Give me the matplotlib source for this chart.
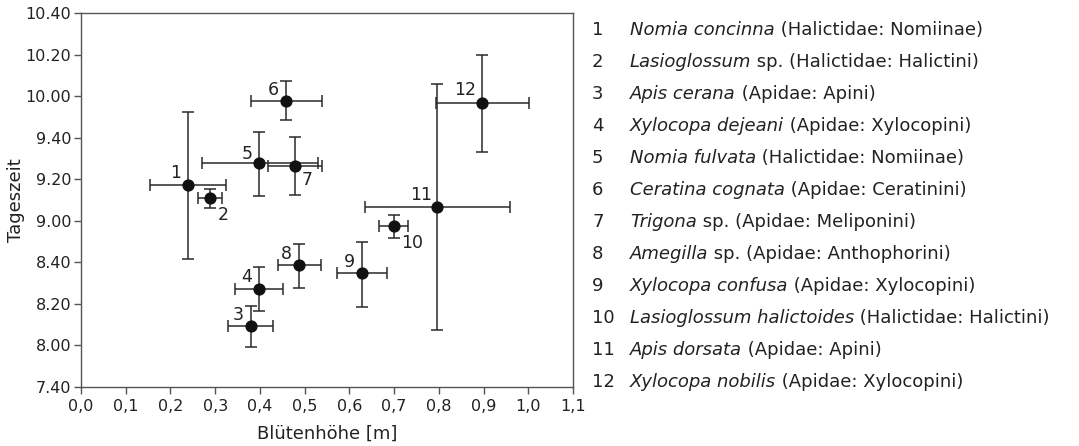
import numpy as np
import matplotlib.pyplot as plt

plt.rcParams['font.family'] = ['DejaVu Sans']

# bee taxa: italic name part and plain remainder
species = ["Nomia concinna", "Lasioglossum", "Apis cerana", "Xylocopa dejeani",
           "Nomia fulvata", "Ceratina cognata", "Trigona", "Amegilla",
           "Xylocopa confusa", "Lasioglossum halictoides", "Apis dorsata",
           "Xylocopa nobilis"]
rest = [" (Halictidae: Nomiinae)", " sp. (Halictidae: Halictini)",
        " (Apidae: Apini)", " (Apidae: Xylocopini)", " (Halictidae: Nomiinae)",
        " (Apidae: Ceratinini)", " sp. (Apidae: Meliponini)",
        " sp. (Apidae: Anthophorini)", " (Apidae: Xylocopini)",
        " (Halictidae: Halictini)", " (Apidae: Apini)", " (Apidae: Xylocopini)"]

# flower height [m]: mean, lower, upper
height = [0.240, 0.288, 0.379, 0.399, 0.399, 0.458, 0.478, 0.488, 0.628, 0.699, 0.797, 0.897]
height_lo = [0.154, 0.262, 0.329, 0.344, 0.271, 0.379, 0.417, 0.440, 0.572, 0.666, 0.636, 0.793]
height_hi = [0.324, 0.316, 0.430, 0.452, 0.529, 0.538, 0.539, 0.537, 0.684, 0.730, 0.960, 1.002]

# time of day [decimal hours]: mean, lower, upper
time = [9.285, 9.180, 8.156, 8.450, 9.460, 9.963, 9.440, 8.646, 8.579, 8.956, 9.108, 9.947]
time_lo = [8.691, 9.103, 7.988, 8.277, 9.201, 9.811, 9.207, 8.463, 8.309, 8.860, 8.124, 9.555]
time_hi = [9.870, 9.258, 8.317, 8.627, 9.715, 10.121, 9.675, 8.814, 8.833, 9.047, 10.095, 10.330]

ytick_labels = ["7.40", "8.00", "8.20", "8.40", "9.00", "9.20", "9.40",
                "10.00", "10.20", "10.40"]
xtick_labels = ["0,0", "0,1", "0,2", "0,3", "0,4", "0,5", "0,6", "0,7",
                "0,8", "0,9", "1,0", "1,1"]

# label offsets (points) for the numbers next to the dots
offsets = [(-9, 9), (10, -12), (-9, 8), (-9, 9), (-9, 7), (-9, 8),
           (9, -10), (-9, 8), (-9, 8), (13, -12), (-12, 9), (-12, 9)]

x = np.array(height)
y = np.array(time)
xerr = [x - np.array(height_lo), np.array(height_hi) - x]
yerr = [y - np.array(time_lo), np.array(time_hi) - y]

W, H = 1079, 446
fig = plt.figure(figsize=(W / 100, H / 100), dpi=100)
ax = fig.add_axes([81 / W, 1 - 387 / H, 492 / W, 374 / H])

ax.errorbar(x, y, xerr=xerr, yerr=yerr, fmt='o', color='#111111',
            ecolor='#2a2a2a', elinewidth=1.1, capsize=4.5, capthick=1.1,
            markersize=7.8, zorder=3)

for i in range(len(x)):
    dx, dy = offsets[i]
    ax.annotate(str(i + 1), (x[i], y[i]), xytext=(dx, dy),
                textcoords='offset points', ha='center', va='center',
                fontsize=12.5, color='#222222')

yticks = [int(s.split('.')[0]) + int(s.split('.')[1]) / 60 for s in ytick_labels]
ax.set_yticks(yticks)
ax.set_yticklabels(ytick_labels)
ax.set_ylim(yticks[0], yticks[-1])
ax.set_xticks(np.arange(len(xtick_labels)) / 10)
ax.set_xticklabels(xtick_labels)
ax.set_xlim(0, 1.1)

for s in ax.spines.values():
    s.set_color('#555555')
    s.set_linewidth(1.0)
ax.tick_params(direction='out', length=5, width=1.0, color='#555555',
               labelsize=11.5, labelcolor='#222222', pad=2)
ax.tick_params(axis='x', pad=3.5)

ax.set_xlabel("Blütenhöhe [m]", fontsize=13, color='#222222', labelpad=8)
ax.set_ylabel("Tageszeit", fontsize=13, color='#222222')
ax.yaxis.set_label_coords(-0.114, 0.5)

# species list on the right: italic name, then plain rest
renderer = fig.canvas.get_renderer()
for i in range(len(species)):
    ypos = 1 - (35 + 32.0 * i) / H
    fig.text(592 / W, ypos, str(i + 1), fontsize=13, color='#222222',
             ha='left', va='baseline')
    t = fig.text(630 / W, ypos, species[i], fontsize=13, color='#222222',
                 style='italic', ha='left', va='baseline')
    w = t.get_window_extent(renderer).width
    fig.text((630 + w) / W, ypos, rest[i], fontsize=13, color='#222222',
             ha='left', va='baseline')

fig.savefig('out.png', dpi=100)
